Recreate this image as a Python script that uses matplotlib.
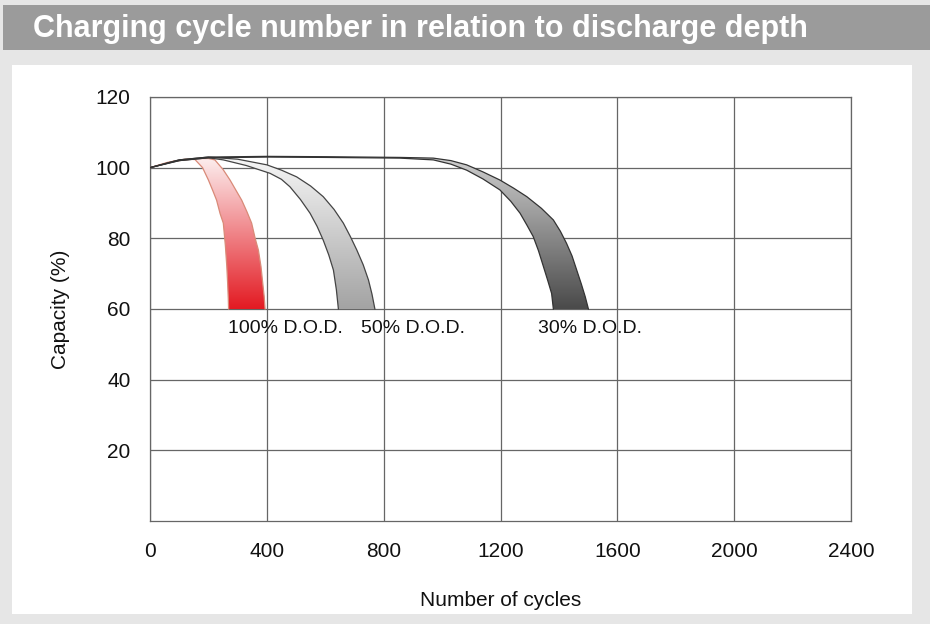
import numpy as np
import matplotlib
matplotlib.use("Agg")
import matplotlib.pyplot as plt
from matplotlib.patches import Polygon, Rectangle
from matplotlib.colors import LinearSegmentedColormap

plt.rcParams["font.family"] = ["Liberation Sans", "DejaVu Sans"]

# capacity curves, each D.O.D. band has a lower and an upper edge
dod100_lo_x = [0, 60, 120, 154, 180, 200, 215, 228, 240, 251, 258, 263, 266, 268, 269]
dod100_lo_y = [100, 101.5, 102.4, 102.3, 100.0, 96.5, 93.5, 90.8, 87.0, 84.3, 78.0, 72.0, 67.0, 63.0, 60]
dod100_hi_x = [0, 80, 160, 200, 222, 250, 274, 295, 314, 332, 348, 360, 371, 380, 386, 391, 394]
dod100_hi_y = [100, 101.8, 102.6, 102.6, 102.2, 99.5, 96.5, 93.5, 90.8, 87.5, 84.3, 80.0, 76.7, 72.0, 67.3, 63.5, 60]

dod50_lo_x = [0, 100, 200, 251, 330, 411, 450, 479, 515, 548, 572, 593, 612, 628, 638, 645]
dod50_lo_y = [100, 102.0, 102.8, 102.2, 100.6, 98.4, 96.7, 94.6, 91.0, 87.1, 83.4, 79.5, 75.3, 71.0, 65.5, 60]
dod50_hi_x = [0, 100, 200, 300, 400, 450, 502, 550, 593, 630, 662, 686, 708, 730, 748, 760, 770]
dod50_hi_y = [100, 102.2, 103.0, 102.4, 100.8, 99.3, 97.4, 94.8, 91.8, 88.2, 84.3, 80.5, 76.7, 72.5, 68.2, 64.2, 60]

dod30_lo_x = [0, 100, 200, 400, 600, 856, 970, 1030, 1084, 1140, 1198, 1235, 1267, 1290, 1312, 1330, 1347, 1362, 1375, 1381]
dod30_lo_y = [100, 102.0, 102.8, 103.0, 102.9, 102.7, 102.2, 101.0, 99.3, 96.8, 93.7, 90.5, 87.1, 83.8, 80.5, 76.5, 72.0, 68.0, 64.4, 60]
dod30_hi_x = [0, 100, 200, 400, 600, 856, 970, 1030, 1084, 1140, 1198, 1245, 1290, 1340, 1381, 1405, 1426, 1445, 1461, 1477, 1490, 1501]
dod30_hi_y = [100, 102.2, 103.0, 103.2, 103.1, 102.9, 102.7, 102.0, 100.8, 98.8, 96.5, 94.2, 91.8, 88.5, 85.2, 82.0, 78.6, 75.0, 71.0, 67.0, 63.5, 60]

band_labels = ["100% D.O.D.", "50% D.O.D.", "30% D.O.D."]
label_x = [267, 721, 1329]
label_y = 54.5

x_ticks = [0, 400, 800, 1200, 1600, 2000, 2400]
y_ticks = [20, 40, 60, 80, 100, 120]


def draw_band(ax, lo_x, lo_y, hi_x, hi_y, top_col, bot_col, edge):
    xs = np.concatenate([lo_x, hi_x[::-1]])
    ys = np.concatenate([lo_y, hi_y[::-1]])
    poly = Polygon(np.column_stack([xs, ys]), closed=True, facecolor="none", edgecolor="none")
    ax.add_patch(poly)
    cmap = LinearSegmentedColormap.from_list("g", [bot_col, top_col])
    grad = np.linspace(0, 1, 256).reshape(-1, 1)
    im = ax.imshow(grad, extent=[min(xs), max(xs), 60, 103.5], origin="lower",
                   cmap=cmap, aspect="auto", zorder=2, interpolation="bilinear")
    im.set_clip_path(poly)
    ax.plot(lo_x, lo_y, color=edge, lw=0.9, zorder=3)
    ax.plot(hi_x, hi_y, color=edge, lw=0.9, zorder=3)


fig = plt.figure(figsize=(9.3, 6.24), dpi=100)
fig.patch.set_facecolor("#e6e6e6")

# header bar and white panel, kept behind the axes
fig.patches.append(Rectangle((3 / 930, 1 - 50 / 624), 927 / 930, 45 / 624, zorder=-5,
                             transform=fig.transFigure, facecolor="#9b9b9b", edgecolor="none"))
fig.patches.append(Rectangle((12 / 930, 1 - 614 / 624), 900 / 930, 549 / 624, zorder=-5,
                             transform=fig.transFigure, facecolor="white", edgecolor="none"))
fig.text(33 / 930, 1 - 29 / 624, "Charging cycle number in relation to discharge depth",
         color="white", fontsize=22, fontweight="bold", va="center", ha="left")

ax = fig.add_axes([150 / 930, 103 / 624, 701 / 930, 424 / 624])
ax.set_facecolor("white")

draw_band(ax, dod100_lo_x, dod100_lo_y, dod100_hi_x, dod100_hi_y, "#fdf2f2", "#e31a22", "#d98a78")
draw_band(ax, dod50_lo_x, dod50_lo_y, dod50_hi_x, dod50_hi_y, "#f7f7f7", "#a3a3a3", "#444444")
draw_band(ax, dod30_lo_x, dod30_lo_y, dod30_hi_x, dod30_hi_y, "#d0d0d0", "#4a4a4a", "#333333")

for txt, lx in zip(band_labels, label_x):
    ax.text(lx, label_y, txt, fontsize=14, ha="left", va="center", color="#111111", zorder=4)

ax.set_xlim(0, 2400)
ax.set_ylim(0, 120)
ax.set_xticks(x_ticks)
ax.set_yticks(y_ticks)
ax.grid(True, color="#666666", lw=0.9, zorder=0)
ax.set_axisbelow(True)
for s in ax.spines.values():
    s.set_color("#666666")
    s.set_linewidth(0.9)
ax.tick_params(length=0, labelsize=15, colors="#111111")
ax.tick_params(axis="y", pad=14)
ax.tick_params(axis="x", pad=15)
ax.set_xlabel("Number of cycles", fontsize=15, labelpad=22, color="#111111")
ax.set_ylabel("Capacity (%)", fontsize=15, labelpad=18, color="#111111")

fig.savefig("out.png", dpi=100, facecolor=fig.get_facecolor())
